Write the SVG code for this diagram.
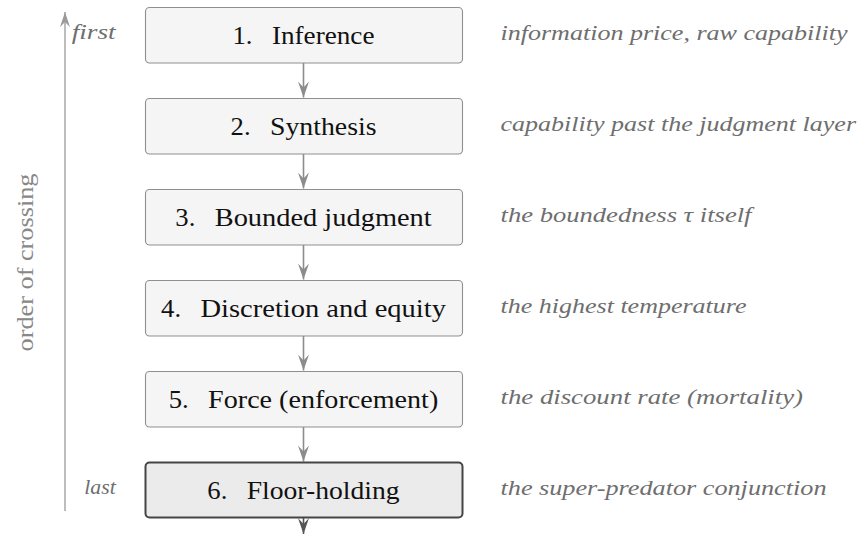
<svg xmlns="http://www.w3.org/2000/svg" width="859" height="535" viewBox="0 0 859 535">
  <style>
    text { font-family: 'Liberation Serif', 'Times New Roman', Times, 'DejaVu Serif', 'Noto Serif', serif; }
    .box { fill: #f5f5f5; stroke: #8f8f8f; stroke-width: 1.1; }
    .box-strong { fill: #ebebeb; stroke: #454545; stroke-width: 2; }
    .lbl { font-size: 26px; fill: #111; }
    .note { font-style: italic; font-size: 20px; fill: #6e6e6e; }
    .axis-lbl { font-size: 24px; fill: #888; }
    .edge { stroke: #8c8c8c; stroke-width: 1.6; fill: none; }
    .edge-dark { stroke: #555; stroke-width: 1.6; fill: none; }
    .axis { stroke: #9a9a9a; stroke-width: 1.3; fill: none; }
  </style>
  <defs>
    <marker id="head" viewBox="-16 -6 17 12" refX="0" refY="0" markerWidth="17" markerHeight="12" markerUnits="userSpaceOnUse" orient="auto">
      <path d="M0,0 L-16,-5.5 L-10,0 L-16,5.5 Z" fill="#8c8c8c"/>
    </marker>
    <marker id="head-dark" viewBox="-16 -6 17 12" refX="0" refY="0" markerWidth="17" markerHeight="12" markerUnits="userSpaceOnUse" orient="auto">
      <path d="M0,0 L-16,-5.5 L-10,0 L-16,5.5 Z" fill="#555"/>
    </marker>
    <marker id="head-axis" viewBox="-16 -6 17 12" refX="0" refY="0" markerWidth="17" markerHeight="12" markerUnits="userSpaceOnUse" orient="auto">
      <path d="M0,0 L-15,-5 L-10,0 L-15,5 Z" fill="#9a9a9a"/>
    </marker>
  </defs>

  <!-- ordering axis on the left -->
  <g id="axis">
    <line class="axis" x1="65" y1="511" x2="65" y2="12" marker-end="url(#head-axis)"/>
    <text class="axis-lbl" font-family="Liberation Serif, serif" transform="translate(33,262.5) rotate(-90)" text-anchor="middle" textLength="178" lengthAdjust="spacingAndGlyphs">order of crossing</text>
    <text class="note" x="71.7" y="38.5" textLength="44" lengthAdjust="spacingAndGlyphs">first</text>
    <text class="note" x="84.3" y="494" textLength="31.4" lengthAdjust="spacingAndGlyphs">last</text>
  </g>

  <!-- connectors between stages -->
  <g id="connectors">
    <line class="edge" x1="303.5" y1="63" x2="303.5" y2="97.5" marker-end="url(#head)"/>
    <line class="edge" x1="303.5" y1="154" x2="303.5" y2="188.5" marker-end="url(#head)"/>
    <line class="edge" x1="303.5" y1="245" x2="303.5" y2="279.5" marker-end="url(#head)"/>
    <line class="edge" x1="303.5" y1="336" x2="303.5" y2="370.5" marker-end="url(#head)"/>
    <line class="edge" x1="303.5" y1="427" x2="303.5" y2="461.5" marker-end="url(#head)"/>
    <line class="edge-dark" x1="303.5" y1="518" x2="303.5" y2="534" marker-end="url(#head-dark)"/>
  </g>

  <g id="stage1">
    <rect class="box" x="145.5" y="7.5" width="317" height="55.5" rx="4"/>
    <text class="lbl" x="232.5" y="44" textLength="20" lengthAdjust="spacingAndGlyphs">1.</text>
    <text class="lbl" x="271.9" y="44" textLength="102.6" lengthAdjust="spacingAndGlyphs">Inference</text>
    <text class="note" x="500.5" y="40" textLength="347" lengthAdjust="spacingAndGlyphs">information price, raw capability</text>
  </g>

  <g id="stage2">
    <rect class="box" x="145.5" y="98.5" width="317" height="55.5" rx="4"/>
    <text class="lbl" x="230.6" y="135" textLength="20" lengthAdjust="spacingAndGlyphs">2.</text>
    <text class="lbl" x="270" y="135" textLength="106.5" lengthAdjust="spacingAndGlyphs">Synthesis</text>
    <text class="note" x="500.5" y="131" textLength="355.5" lengthAdjust="spacingAndGlyphs">capability past the judgment layer</text>
  </g>

  <g id="stage3">
    <rect class="box" x="145.5" y="189.5" width="317" height="55.5" rx="4"/>
    <text class="lbl" x="175.3" y="226" textLength="20" lengthAdjust="spacingAndGlyphs">3.</text>
    <text class="lbl" x="214.7" y="226" textLength="217" lengthAdjust="spacingAndGlyphs">Bounded judgment</text>
    <text class="note" x="500.5" y="222" textLength="251" lengthAdjust="spacingAndGlyphs">the boundedness τ itself</text>
  </g>

  <g id="stage4">
    <rect class="box" x="145.5" y="280.5" width="317" height="55.5" rx="4"/>
    <text class="lbl" x="161.1" y="317" textLength="20" lengthAdjust="spacingAndGlyphs">4.</text>
    <text class="lbl" x="200.5" y="317" textLength="245.4" lengthAdjust="spacingAndGlyphs">Discretion and equity</text>
    <text class="note" x="500.5" y="313" textLength="246" lengthAdjust="spacingAndGlyphs">the highest temperature</text>
  </g>

  <g id="stage5">
    <rect class="box" x="145.5" y="371.5" width="317" height="55.5" rx="4"/>
    <text class="lbl" x="168.7" y="408" textLength="20" lengthAdjust="spacingAndGlyphs">5.</text>
    <text class="lbl" x="208.1" y="408" textLength="230.2" lengthAdjust="spacingAndGlyphs">Force (enforcement)</text>
    <text class="note" x="500.5" y="404" textLength="302.5" lengthAdjust="spacingAndGlyphs">the discount rate (mortality)</text>
  </g>

  <g id="stage6">
    <rect class="box-strong" x="145.5" y="462.5" width="317" height="55" rx="4"/>
    <text class="lbl" x="207.3" y="499" textLength="20" lengthAdjust="spacingAndGlyphs">6.</text>
    <text class="lbl" x="246.7" y="499" textLength="152.9" lengthAdjust="spacingAndGlyphs">Floor-holding</text>
    <text class="note" x="500.5" y="495" textLength="326" lengthAdjust="spacingAndGlyphs">the super-predator conjunction</text>
  </g>
</svg>
